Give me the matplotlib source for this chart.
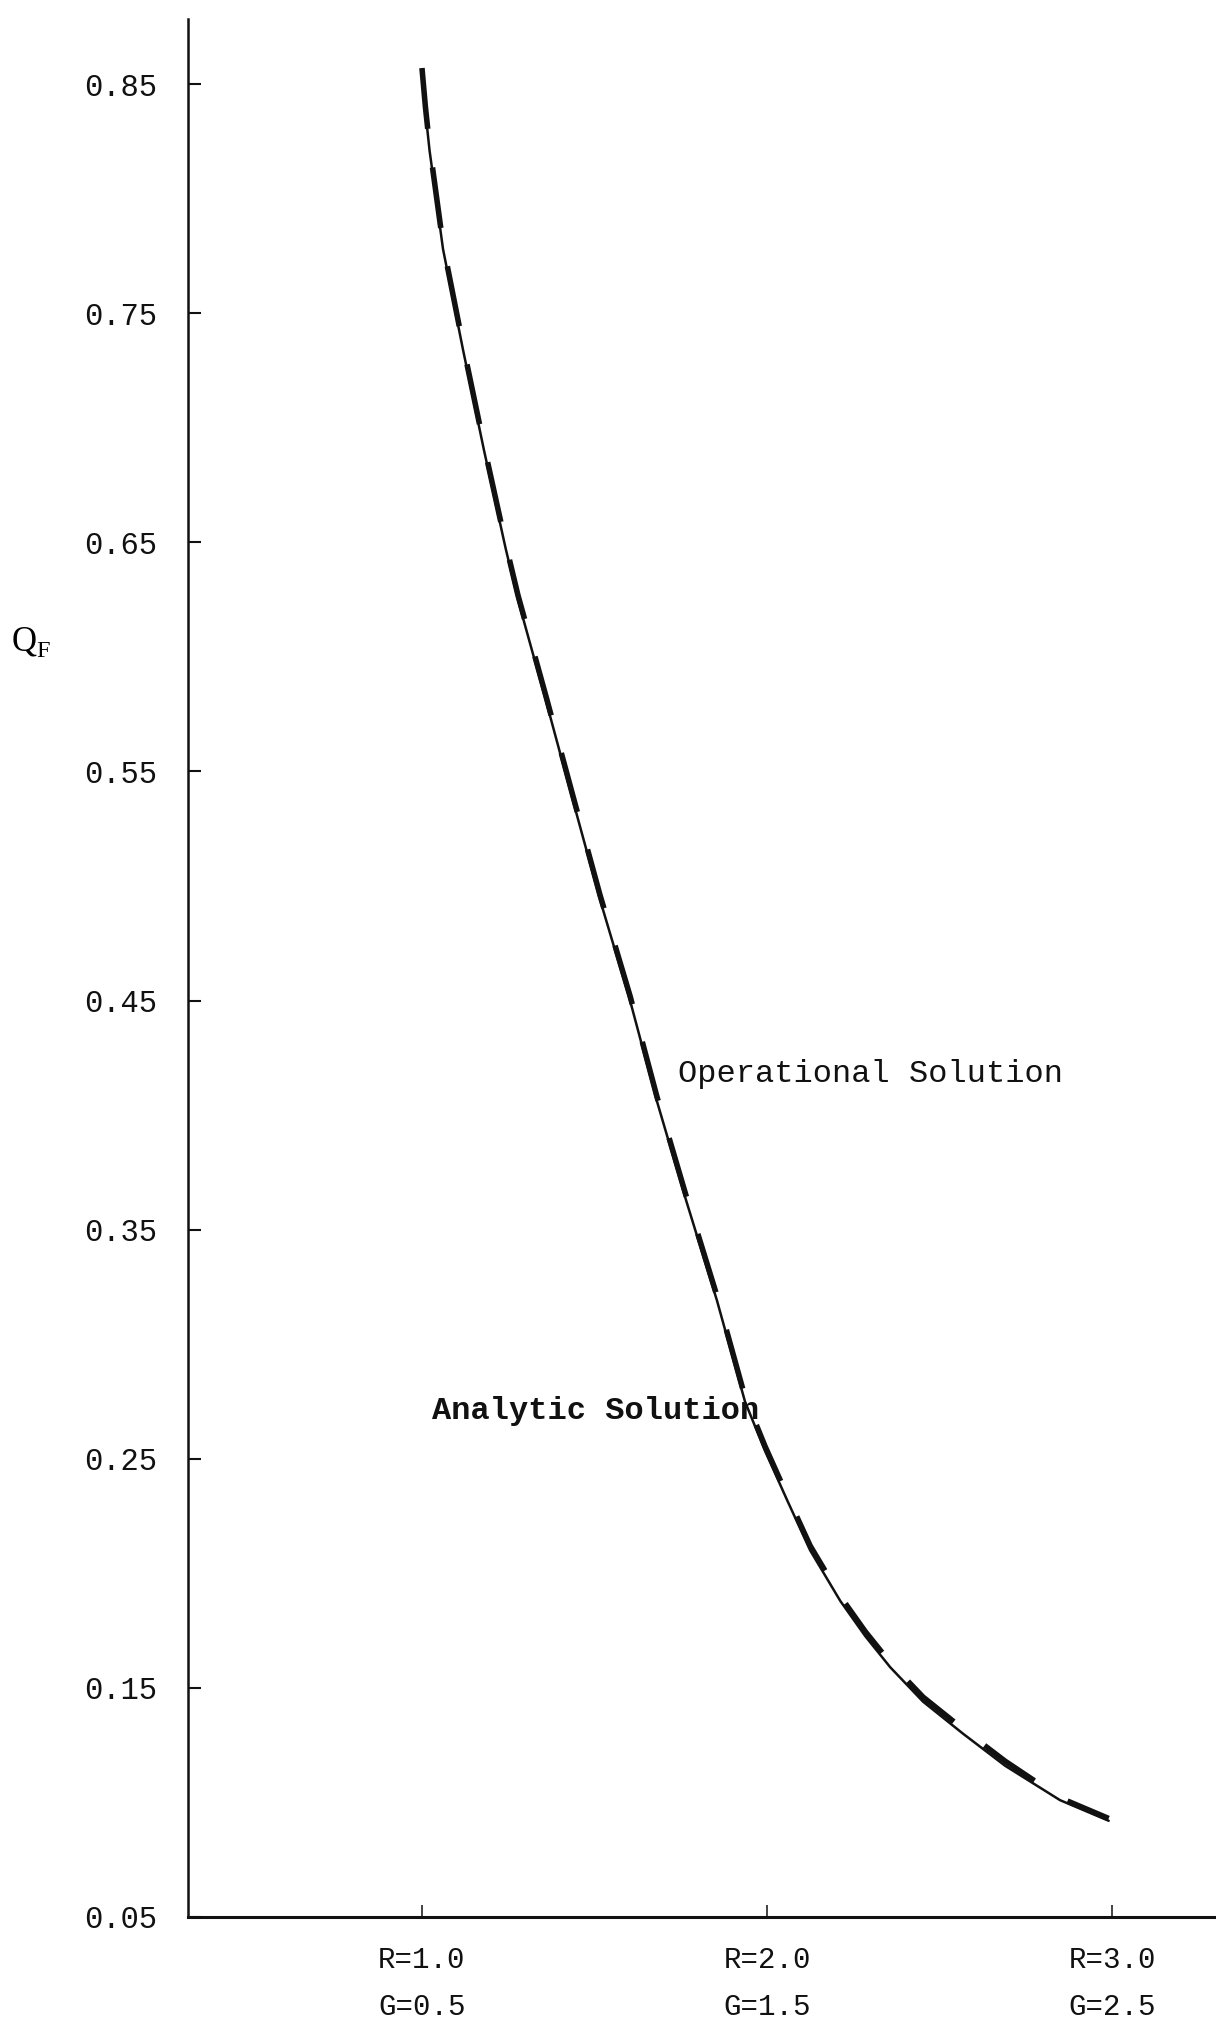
"""Q_F vs R/G: analytic vs operational solution"""
import matplotlib
matplotlib.use('Agg')
import matplotlib.pyplot as plt

plt.rcParams['font.family'] = ['Liberation Mono', 'DejaVu Sans']
plt.rcParams['mathtext.fontset'] = 'custom'
plt.rcParams['mathtext.rm'] = 'Liberation Serif'

# values
r_analytic = [1.000, 1.010, 1.022, 1.061, 1.119, 1.180, 1.243, 1.278, 1.359,
              1.438, 1.516, 1.603, 1.681, 1.765, 1.855, 1.936, 1.994, 2.058,
              2.125, 2.212, 2.285, 2.357, 2.452, 2.568, 2.690, 2.849, 2.990]
q_analytic = [0.855, 0.838, 0.821, 0.778, 0.734, 0.690, 0.647, 0.625, 0.581,
              0.537, 0.494, 0.450, 0.406, 0.363, 0.319, 0.275, 0.2535, 0.232,
              0.210, 0.188, 0.1725, 0.159, 0.144, 0.130, 0.116, 0.101, 0.092]

r_operational = [1.000, 1.010, 1.022, 1.061, 1.119, 1.180, 1.243, 1.278, 1.359,
                 1.438, 1.516, 1.603, 1.681, 1.765, 1.855, 1.936, 1.994, 2.058,
                 2.125, 2.212, 2.285, 2.357, 2.452, 2.568, 2.690, 2.849, 2.990]
q_operational = [0.857, 0.840, 0.823, 0.780, 0.736, 0.692, 0.649, 0.627, 0.583,
                 0.539, 0.496, 0.452, 0.408, 0.365, 0.321, 0.277, 0.2555, 0.234,
                 0.212, 0.190, 0.1745, 0.161, 0.146, 0.132, 0.118, 0.102, 0.093]

y_ticks = [0.05, 0.15, 0.25, 0.35, 0.45, 0.55, 0.65, 0.75, 0.85]
x_ticks = [1.0, 2.0, 3.0]
x_tick_labels = ['R=1.0\nG=0.5', 'R=2.0\nG=1.5', 'R=3.0\nG=2.5']

W, H = 1216, 2028
fig = plt.figure(figsize=(W / 100, H / 100), dpi=100)
ax = fig.add_axes([188 / W, 111 / H, 1028 / W, 1898 / H])

ax.plot(r_analytic, q_analytic, color='#111111', linewidth=1.8,
        solid_capstyle='round', solid_joinstyle='round')
ax.plot(r_operational, q_operational, color='#111111', linewidth=4.0,
        dashes=(11, 7), dash_capstyle='butt')

ax.set_xlim(0.322, 3.301)
ax.set_ylim(0.05, 0.8784)

ax.set_yticks(y_ticks)
ax.set_yticklabels([f'{v:.2f}' for v in y_ticks])
ax.set_xticks(x_ticks)
ax.set_xticklabels(x_tick_labels, linespacing=1.85)

ax.tick_params(axis='y', direction='in', length=9, width=1.5, pad=22,
               labelsize=22, colors='#111111')
ax.tick_params(axis='x', direction='in', length=9, width=1.1, pad=21,
               labelsize=21, colors='#111111')

for side in ['top', 'right']:
    ax.spines[side].set_visible(False)
ax.spines['left'].set_linewidth(1.8)
ax.spines['bottom'].set_linewidth(2.2)
ax.spines['left'].set_color('#111111')
ax.spines['bottom'].set_color('#111111')

ax.set_ylabel(r'$\mathrm{Q}_\mathrm{F}$', rotation=0, fontsize=25)
ax.yaxis.set_label_coords(-0.153, 0.663)

ax.text(1.742, 0.418, 'Operational Solution', fontsize=23, color='#111111',
        ha='left', va='center')
ax.text(1.030, 0.271, 'Analytic Solution', fontsize=23, color='#111111',
        ha='left', va='center', fontweight='bold')

fig.savefig('out.png', dpi=100)
